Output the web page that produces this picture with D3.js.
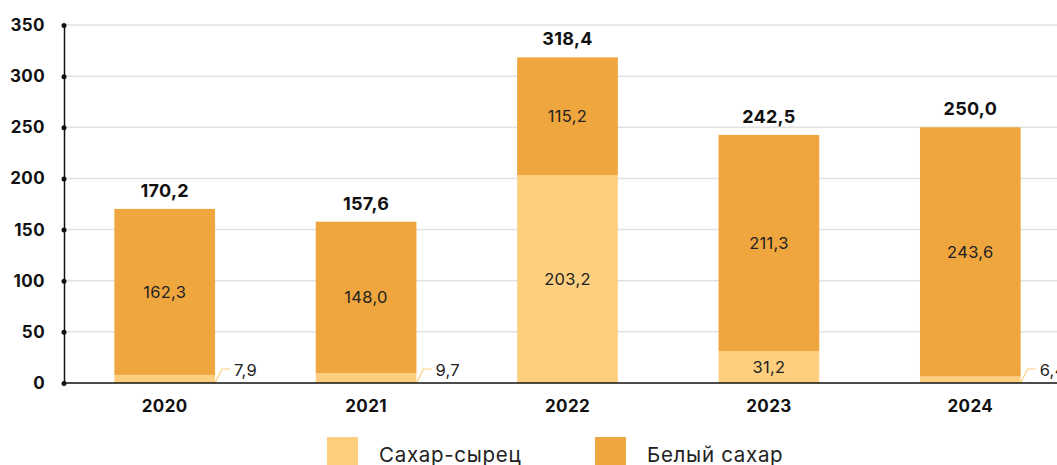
<!DOCTYPE html>
<html><head><meta charset="utf-8">
<script src="https://cdn.jsdelivr.net/npm/d3@7"></script>
<style>body{margin:0;background:#fff}svg{display:block}text{font-family:Inter,"Open Sans",sans-serif}</style>
</head><body><svg id="c" width="1057" height="465"></svg>
<script>
const years = ["2020","2021","2022","2023","2024"];
const rawSugar = [7.9, 9.7, 203.2, 31.2, 6.4];
const whiteSugar = [162.3, 148.0, 115.2, 211.3, 243.6];
const totals = ["170,2","157,6","318,4","242,5","250,0"];
const yTicks = [0,50,100,150,200,250,300,350];
const seriesNames = ["Сахар-сырец","Белый сахар"];
const colors = ["#FDCF7F","#EFA63E"];

const svg = d3.select("#c");
const x = d3.scaleBand().domain(years).range([64,1071]).paddingInner(0.5).paddingOuter(0.25);
const y = d3.scaleLinear().domain([0,350]).range([383,25]);
const fmt = v => v.toFixed(1).replace(".", ",");

// grid
svg.append("g").selectAll("line").data(yTicks.filter(d=>d>0)).join("line")
  .attr("x1",64).attr("x2",1057).attr("y1",d=>y(d)).attr("y2",d=>y(d))
  .attr("stroke","#e2e2e2").attr("stroke-width",1.5);

const data = years.map((yr,i)=>({yr, raw:rawSugar[i], white:whiteSugar[i], total:totals[i]}));

const g = svg.append("g");
g.selectAll("rect.raw").data(data).join("rect").attr("class","raw")
  .attr("x",d=>x(d.yr)).attr("width",x.bandwidth())
  .attr("y",d=>y(d.raw)).attr("height",d=>y(0)-y(d.raw)).attr("fill",colors[0]);
g.selectAll("rect.white").data(data).join("rect").attr("class","white")
  .attr("x",d=>x(d.yr)).attr("width",x.bandwidth())
  .attr("y",d=>y(d.raw+d.white)).attr("height",d=>y(d.raw)-y(d.raw+d.white)).attr("fill",colors[1]);

const valStyle = sel => sel.attr("font-size",16.5).attr("fill","#222").attr("letter-spacing",0.3);
g.selectAll("text.wl").data(data).join("text")
  .attr("x",d=>x(d.yr)+x.bandwidth()/2).attr("y",d=>(y(d.raw)+y(d.raw+d.white))/2)
  .attr("dy","0.35em").attr("text-anchor","middle").call(valStyle)
  .text(d=>fmt(d.white));
const big = data.filter(d=>d.raw>20), small = data.filter(d=>d.raw<=20);
g.selectAll("text.rl").data(big).join("text")
  .attr("x",d=>x(d.yr)+x.bandwidth()/2).attr("y",d=>(y(0)+y(d.raw))/2)
  .attr("dy","0.35em").attr("text-anchor","middle").call(valStyle)
  .text(d=>fmt(d.raw));
g.selectAll("path.ld").data(small).join("path")
  .attr("d",d=>{const x0=x(d.yr)+x.bandwidth(); const yy=y(0)-14; return `M${x0},${y(0)}L${x0+7},${yy}L${x0+15},${yy}`;})
  .attr("fill","none").attr("stroke",colors[0]).attr("stroke-width",1.2);
g.selectAll("text.sl").data(small).join("text")
  .attr("x",d=>x(d.yr)+x.bandwidth()+19).attr("y",y(0)-13)
  .attr("dy","0.35em").call(valStyle)
  .text(d=>fmt(d.raw));
g.selectAll("text.tl").data(data).join("text")
  .attr("x",d=>x(d.yr)+x.bandwidth()/2).attr("y",d=>y(d.raw+d.white)-12)
  .attr("text-anchor","middle").attr("font-size",18).attr("font-weight",700).attr("fill","#111").attr("letter-spacing",0.3)
  .text(d=>d.total);

svg.append("line").attr("x1",64).attr("x2",1057).attr("y1",y(0)).attr("y2",y(0)).attr("stroke","#111").attr("stroke-width",1.5);
const ya = svg.append("g").attr("transform","translate(64,0)")
  .call(d3.axisLeft(y).tickValues(yTicks).tickSize(0).tickPadding(19).tickFormat(d3.format("d")));
ya.select(".domain").attr("stroke","#111").attr("stroke-width",1.5);
ya.selectAll("text").attr("font-size",17).attr("font-weight",700).attr("fill","#111").attr("letter-spacing",0.4).style("font-family","Inter,sans-serif");
ya.selectAll(".tick").append("circle").attr("r",2.5).attr("fill","#111");

const xa = svg.append("g").attr("transform",`translate(0,${y(0)})`)
  .call(d3.axisBottom(x).tickSize(0).tickPadding(17));
xa.select(".domain").remove();
xa.selectAll("text").attr("font-size",17).attr("font-weight",700).attr("fill","#111").attr("letter-spacing",0.4).style("font-family","Inter,sans-serif");

const lg = svg.append("g");
const lx = [327, 595];
seriesNames.forEach((n,i)=>{
  lg.append("rect").attr("x",lx[i]).attr("y",437).attr("width",31).attr("height",30).attr("fill",colors[i]);
  lg.append("text").attr("x",lx[i]+52).attr("y",462).attr("font-size",20.5).attr("letter-spacing",0.7).attr("fill","#222").text(n);
});
</script></body></html>
